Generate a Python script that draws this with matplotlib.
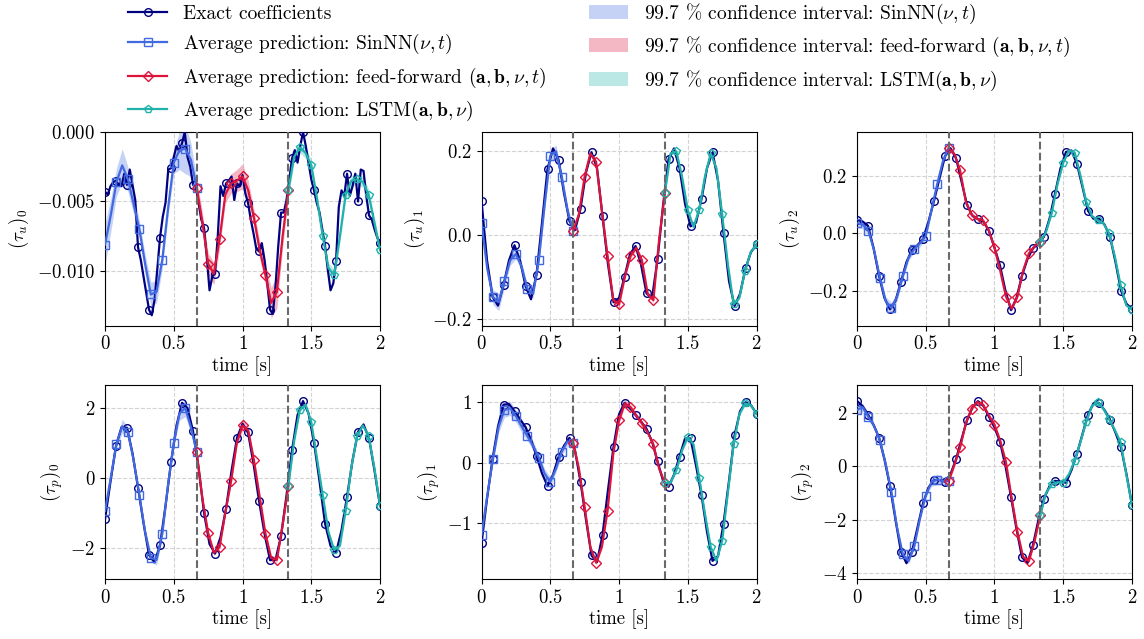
import matplotlib.pyplot as plt
import numpy as np
from matplotlib.lines import Line2D
from matplotlib.patches import Patch

plt.rcParams['font.family'] = 'serif'
plt.rcParams['font.serif'] = ['cmr10']
plt.rcParams['mathtext.fontset'] = 'cm'
plt.rcParams['axes.formatter.use_mathtext'] = True
plt.rcParams['font.size'] = 13.5

# time grids
t_exact = np.linspace(0, 2, 51)
t_exact_fine = np.linspace(0, 2, 101)
t_pred = np.linspace(0, 2, 49)   # 3 segments of 16 steps, shared endpoints

# exact coefficients
exact_tu0 = [-0.0043, -0.0045, -0.0039, -0.0036, -0.0035, -0.0038, -0.0039, -0.0030, -0.0038, -0.0027,
             -0.0038, -0.0049, -0.0083, -0.0092, -0.0104, -0.0116, -0.0128, -0.0132, -0.0121, -0.0099,
             -0.0076, -0.0061, -0.0051, -0.0027, -0.0026, -0.0018, -0.0010, -0.0014, -0.0008, 0.0000,
             -0.0018, -0.0025, -0.0038, -0.0039, -0.0051, -0.0063, -0.0069, -0.0090, -0.0114, -0.0104,
             -0.0102, -0.0075, -0.0039, -0.0046, -0.0037, -0.0035, -0.0032, -0.0049, -0.0037, -0.0039,
             -0.0031, -0.0044, -0.0051, -0.0063, -0.0073, -0.0084, -0.0086, -0.0080, -0.0092, -0.0109,
             -0.0128, -0.0131, -0.0111, -0.0082, -0.0058, -0.0058, -0.0049, -0.0034, -0.0019, -0.0013,
             -0.0022, -0.0010, 0.0000, -0.0010, -0.0022, -0.0034, -0.0042, -0.0051, -0.0058, -0.0070,
             -0.0082, -0.0099, -0.0114, -0.0109, -0.0093, -0.0054, -0.0042, -0.0046, -0.0030, -0.0046,
             -0.0039, -0.0030, -0.0050, -0.0027, -0.0028, -0.0046, -0.0060, -0.0063, -0.0070, -0.0076,
             -0.0080]
exact_tu1 = [0.082, -0.06, -0.147, -0.168, -0.119, -0.06, -0.024, -0.06, -0.121, -0.153,
             -0.094, 0.03, 0.158, 0.207, 0.18, 0.10, 0.033, 0.012, 0.063, 0.15,
             0.198, 0.16, 0.045, -0.07, -0.16, -0.15, -0.099, -0.045, -0.026, -0.07,
             -0.139, -0.15, -0.058, 0.07, 0.181, 0.207, 0.16, 0.075, 0.021, 0.03,
             0.086, 0.16, 0.198, 0.13, 0.005, -0.11, -0.169, -0.14, -0.079, -0.04,
             -0.022]
exact_tu2 = [0.046, 0.041, 0.026, -0.05, -0.147, -0.225, -0.264, -0.235, -0.168, -0.10,
             -0.058, -0.042, -0.020, 0.04, 0.112, 0.19, 0.267, 0.295, 0.261, 0.18,
             0.099, 0.06, 0.049, 0.04, 0.008, -0.05, -0.112, -0.20, -0.267, -0.225,
             -0.147, -0.09, -0.052, -0.035, -0.012, 0.05, 0.137, 0.225, 0.282, 0.287,
             0.24, 0.16, 0.078, 0.05, 0.05, 0.03, -0.012, -0.10, -0.199, -0.245,
             -0.263]
exact_tp0 = [-1.19, -0.1, 0.92, 1.45, 1.43, 0.7, -0.28, -1.3, -2.21, -2.42,
             -1.93, -0.8, 0.44, 1.5, 2.15, 2.0, 1.34, 0.3, -1.0, -1.9,
             -2.17, -1.7, -0.88, 0.2, 1.15, 1.55, 1.30, 0.4, -0.66, -1.6,
             -2.36, -2.35, -1.67, -0.5, 0.79, 1.8, 2.2, 1.85, 1.01, -0.1,
             -1.31, -1.95, -2.15, -1.5, -0.54, 0.5, 1.32, 1.53, 1.13, 0.2,
             -0.81]
exact_tp1 = [-1.34, -0.6, 0.055, 0.6, 0.96, 0.97, 0.85, 0.72, 0.59, 0.38,
             0.11, -0.18, -0.39, -0.2, 0.09, 0.28, 0.41, 0.2, -0.32, -0.95,
             -1.54, -1.65, -1.20, -0.45, 0.26, 0.8, 0.99, 0.9, 0.79, 0.68,
             0.56, 0.35, 0.02, -0.3, -0.40, -0.2, 0.10, 0.4, 0.40, -0.05,
             -0.54, -1.15, -1.63, -1.55, -1.01, -0.3, 0.45, 0.85, 1.0, 0.95,
             0.81]
exact_tp2 = [2.44, 2.25, 1.93, 1.55, 1.07, 0.25, -0.75, -2.0, -3.2, -3.63,
             -3.2, -2.3, -1.39, -0.8, -0.52, -0.52, -0.58, -0.3, 0.25, 1.0,
             1.72, 2.2, 2.43, 2.25, 1.84, 1.45, 0.91, 0.0, -1.14, -2.35,
             -3.41, -3.62, -2.95, -2.0, -1.21, -0.75, -0.55, -0.58, -0.62, -0.15,
             0.47, 1.2, 1.93, 2.35, 2.36, 2.1, 1.74, 1.25, 0.70, -0.3,
             -1.46]

# average predictions on t_pred: SinNN [0:17], feed-forward [16:33], LSTM [32:49]
pred_tu0 = [-0.0081, -0.0060, -0.0036, -0.0024, -0.0034, -0.0052, -0.0070, -0.0095, -0.0117, -0.0115,
            -0.0092, -0.0055, -0.0022, -0.0013, -0.0012, -0.0020, -0.0040, -0.0065, -0.0095, -0.0102,
            -0.0077, -0.0045, -0.0037, -0.0035, -0.0032, -0.0042, -0.0062, -0.0085, -0.0103, -0.0123,
            -0.0115, -0.0075, -0.0042, -0.0018, -0.0011, -0.0015, -0.0024, -0.0048, -0.0075, -0.0098,
            -0.0103, -0.0075, -0.0045, -0.0035, -0.0034, -0.0036, -0.0045, -0.0065, -0.0085]
pred_tu1 = [0.03, -0.08, -0.148, -0.16, -0.11, -0.06, -0.045, -0.075, -0.128, -0.14,
            -0.06, 0.07, 0.19, 0.2, 0.14, 0.06, 0.01, 0.05, 0.14, 0.195,
            0.175, 0.06, -0.05, -0.155, -0.165, -0.1, -0.05, -0.03, -0.06, -0.14,
            -0.155, -0.01, 0.1, 0.195, 0.2, 0.14, 0.06, 0.02, 0.06, 0.14,
            0.195, 0.16, 0.05, -0.07, -0.165, -0.15, -0.085, -0.04, -0.022]
pred_tu2 = [0.035, 0.03, 0.008, -0.06, -0.155, -0.235, -0.26, -0.22, -0.15, -0.085,
            -0.055, -0.035, -0.01, 0.08, 0.17, 0.25, 0.295, 0.275, 0.218, 0.11,
            0.064, 0.05, 0.045, 0.01, -0.05, -0.13, -0.22, -0.262, -0.22, -0.13,
            -0.07, -0.045, -0.03, 0.005, 0.07, 0.17, 0.245, 0.287, 0.28, 0.2,
            0.11, 0.06, 0.045, 0.035, 0.0, -0.08, -0.18, -0.25, -0.265]
pred_tp0 = [-0.95, 0.0, 0.98, 1.48, 1.3, 0.5, -0.5, -1.55, -2.3, -2.35,
            -1.6, -0.2, 1.0, 1.85, 2.0, 1.45, 0.73, -0.6, -1.58, -2.15,
            -1.98, -1.0, -0.1, 1.0, 1.5, 1.35, 0.5, -0.55, -1.6, -2.3,
            -2.35, -1.35, -0.24, 1.05, 1.94, 2.1, 1.6, 0.55, -0.5, -1.55,
            -2.07, -1.95, -0.95, 0.3, 1.2, 1.5, 1.2, 0.3, -0.8]
pred_tp1 = [-1.2, -0.55, 0.06, 0.6, 0.87, 0.9, 0.77, 0.6, 0.44, 0.28,
            0.08, -0.18, -0.32, -0.1, 0.18, 0.35, 0.33, -0.1, -0.74, -1.4,
            -1.66, -1.4, -0.80, 0.15, 0.7, 0.98, 0.92, 0.78, 0.65, 0.5,
            0.3, -0.1, -0.34, -0.33, -0.13, 0.2, 0.42, 0.3, -0.25, -0.85,
            -1.4, -1.63, -1.3, -0.5, 0.3, 0.8, 0.98, 0.95, 0.81]
pred_tp2 = [2.1, 2.2, 1.84, 1.5, 0.97, 0.1, -0.95, -2.3, -3.3, -3.55,
            -3.0, -1.95, -1.1, -0.6, -0.5, -0.55, -0.56, 0.05, 0.7, 1.6,
            2.15, 2.4, 2.3, 1.9, 1.55, 0.95, 0.15, -1.2, -2.45, -3.4,
            -3.55, -2.8, -1.83, -1.0, -0.68, -0.6, -0.62, -0.3, 0.2, 0.9,
            1.65, 2.25, 2.4, 2.15, 1.75, 1.35, 0.9, -0.3, -1.45]

# half width of the 99.7 % confidence band on t_pred
band_tu0 = [0.0015, 0.0012, 0.0010, 0.0012, 0.0009, 0.0007, 0.0006, 0.0007, 0.0009, 0.0008,
            0.0006, 0.0006, 0.0008, 0.0014, 0.0018, 0.0012, 0.0006, 0.0007, 0.0008, 0.0008,
            0.0007, 0.0006, 0.0007, 0.0008, 0.0009, 0.0007, 0.0006, 0.0006, 0.0007, 0.0011,
            0.0012, 0.0008, 0.0005, 0.0004, 0.0004, 0.0004, 0.0004, 0.0004, 0.0004, 0.0004,
            0.0004, 0.0004, 0.0004, 0.0004, 0.0004, 0.0004, 0.0004, 0.0004, 0.0004]
band_tu1 = [0.012, 0.015, 0.018, 0.02, 0.015, 0.012, 0.012, 0.01, 0.01, 0.01,
            0.01, 0.012, 0.015, 0.015, 0.012, 0.012, 0.008, 0.006, 0.006, 0.006,
            0.006, 0.006, 0.006, 0.008, 0.01, 0.006, 0.006, 0.006, 0.006, 0.006,
            0.006, 0.006, 0.005, 0.004, 0.004, 0.004, 0.004, 0.004, 0.004, 0.004,
            0.004, 0.004, 0.004, 0.004, 0.004, 0.004, 0.004, 0.004, 0.004]
band_tu2 = [0.015, 0.015, 0.012, 0.01, 0.012, 0.015, 0.02, 0.015, 0.01, 0.01,
            0.012, 0.012, 0.01, 0.01, 0.01, 0.01, 0.008, 0.006, 0.006, 0.006,
            0.006, 0.006, 0.006, 0.006, 0.006, 0.006, 0.006, 0.006, 0.006, 0.006,
            0.006, 0.006, 0.005, 0.005, 0.005, 0.005, 0.005, 0.005, 0.005, 0.005,
            0.005, 0.005, 0.005, 0.005, 0.005, 0.005, 0.005, 0.005, 0.005]
band_tp0 = [0.2, 0.12, 0.12, 0.2, 0.15, 0.1, 0.1, 0.1, 0.12, 0.15,
            0.12, 0.1, 0.12, 0.2, 0.25, 0.15, 0.08, 0.06, 0.06, 0.08,
            0.06, 0.06, 0.06, 0.1, 0.15, 0.1, 0.06, 0.06, 0.06, 0.08,
            0.08, 0.06, 0.05, 0.04, 0.04, 0.04, 0.04, 0.04, 0.04, 0.04,
            0.04, 0.04, 0.04, 0.04, 0.04, 0.04, 0.04, 0.04, 0.04]
band_tp1 = [0.1, 0.06, 0.06, 0.1, 0.12, 0.12, 0.1, 0.1, 0.08, 0.08,
            0.06, 0.08, 0.08, 0.06, 0.06, 0.08, 0.05, 0.04, 0.04, 0.04,
            0.04, 0.04, 0.04, 0.04, 0.05, 0.06, 0.05, 0.05, 0.05, 0.04,
            0.04, 0.04, 0.03, 0.03, 0.03, 0.03, 0.03, 0.03, 0.03, 0.03,
            0.03, 0.03, 0.03, 0.03, 0.03, 0.03, 0.03, 0.03, 0.03]
band_tp2 = [0.2, 0.15, 0.12, 0.1, 0.1, 0.1, 0.1, 0.1, 0.1, 0.1,
            0.1, 0.1, 0.1, 0.15, 0.2, 0.15, 0.1, 0.08, 0.08, 0.08,
            0.08, 0.08, 0.08, 0.08, 0.08, 0.08, 0.08, 0.08, 0.08, 0.08,
            0.08, 0.08, 0.06, 0.06, 0.06, 0.06, 0.06, 0.06, 0.06, 0.06,
            0.06, 0.06, 0.06, 0.06, 0.06, 0.06, 0.06, 0.06, 0.06]

panels = [
    ('$(\\tau_u)_0$', t_exact_fine, exact_tu0, pred_tu0, band_tu0, (-0.01395, 0.0),
     [-0.01, -0.005, 0.0], ['$-0.010$', '$-0.005$', '$0.000$']),
    ('$(\\tau_u)_1$', t_exact, exact_tu1, pred_tu1, band_tu1, (-0.216, 0.246),
     [-0.2, 0.0, 0.2], ['$-0.2$', '$0.0$', '$0.2$']),
    ('$(\\tau_u)_2$', t_exact, exact_tu2, pred_tu2, band_tu2, (-0.321, 0.351),
     [-0.2, 0.0, 0.2], ['$-0.2$', '$0.0$', '$0.2$']),
    ('$(\\tau_p)_0$', t_exact, exact_tp0, pred_tp0, band_tp0, (-2.9, 2.65),
     [-2, 0, 2], ['$-2$', '$0$', '$2$']),
    ('$(\\tau_p)_1$', t_exact, exact_tp1, pred_tp1, band_tp1, (-1.93, 1.28),
     [-1, 0, 1], ['$-1$', '$0$', '$1$']),
    ('$(\\tau_p)_2$', t_exact, exact_tp2, pred_tp2, band_tp2, (-4.22, 3.02),
     [-4, -2, 0, 2], ['$-4$', '$-2$', '$0$', '$2$']),
]

models = [('royalblue', 's'), ('crimson', 'D'), ('lightseagreen', 'p')]
exact_color = 'navy'
ms = 5.5

fig = plt.figure(figsize=(11.44, 6.39), dpi=100)
lefts = [0.0918, 0.4209, 0.7491]
bottoms = [0.4903, 0.0939]
w, h = 0.2404, 0.3030

for i, (ylab, te, ex, pr, bd, ylim, yt, ytl) in enumerate(panels):
    ax = fig.add_axes([lefts[i % 3], bottoms[i // 3], w, h])
    ex = np.array(ex)
    pr = np.array(pr)
    bd = np.array(bd)
    every = 4 if len(te) > 60 else 2
    ax.plot(te, ex, color=exact_color, lw=1.6, marker='o', ms=ms, mfc='none',
            mew=1.0, markevery=every, zorder=3)
    for k, (c, m) in enumerate(models):
        sl = slice(16 * k, 16 * k + 17)
        ax.fill_between(t_pred[sl], pr[sl] - bd[sl], pr[sl] + bd[sl], color=c,
                        alpha=0.3, lw=0, zorder=2)
        ax.plot(t_pred[sl], pr[sl], color=c, lw=1.6, marker=m,
                ms=ms if m != 'D' else 5, mfc='none', mew=1.0,
                markevery=slice(0, 17, 2), zorder=4)
    for tv in (2 / 3, 4 / 3):
        ax.axvline(tv, color='dimgray', ls='--', lw=1.5, zorder=5)
    ax.set_xlim(0, 2)
    ax.set_ylim(*ylim)
    ax.set_xticks([0, 0.5, 1, 1.5, 2])
    ax.set_xticklabels(['$0$', '$0.5$', '$1$', '$1.5$', '$2$'])
    ax.set_yticks(yt)
    ax.set_yticklabels(ytl)
    ax.grid(True, ls='--', color='lightgray', lw=0.8, zorder=0)
    ax.set_axisbelow(True)
    ax.set_xlabel('time [s]', labelpad=2)
    ax.set_ylabel(ylab)

handles = [
    Line2D([], [], color=exact_color, lw=1.6, marker='o', ms=ms, mfc='none'),
    Line2D([], [], color='royalblue', lw=1.6, marker='s', ms=ms, mfc='none'),
    Line2D([], [], color='crimson', lw=1.6, marker='D', ms=5, mfc='none'),
    Line2D([], [], color='lightseagreen', lw=1.6, marker='p', ms=ms, mfc='none'),
    Patch(facecolor='royalblue', alpha=0.3, lw=0),
    Patch(facecolor='crimson', alpha=0.3, lw=0),
    Patch(facecolor='lightseagreen', alpha=0.3, lw=0),
]
labels = [
    'Exact coefficients',
    'Average prediction: SinNN$(\\nu,t)$',
    'Average prediction: feed-forward $(\\mathbf{a},\\mathbf{b},\\nu,t)$',
    'Average prediction: LSTM$(\\mathbf{a},\\mathbf{b},\\nu)$',
    '99.7 % confidence interval: SinNN$(\\nu,t)$',
    '99.7 % confidence interval: feed-forward $(\\mathbf{a},\\mathbf{b},\\nu,t)$',
    '99.7 % confidence interval: LSTM$(\\mathbf{a},\\mathbf{b},\\nu)$',
]
fig.legend(handles, labels, loc='upper left', bbox_to_anchor=(0.097, 1.025), ncol=2,
           frameon=False, columnspacing=2.2, handlelength=2.0, labelspacing=0.48,
           fontsize=14)

fig.savefig('out.png', dpi=100)
